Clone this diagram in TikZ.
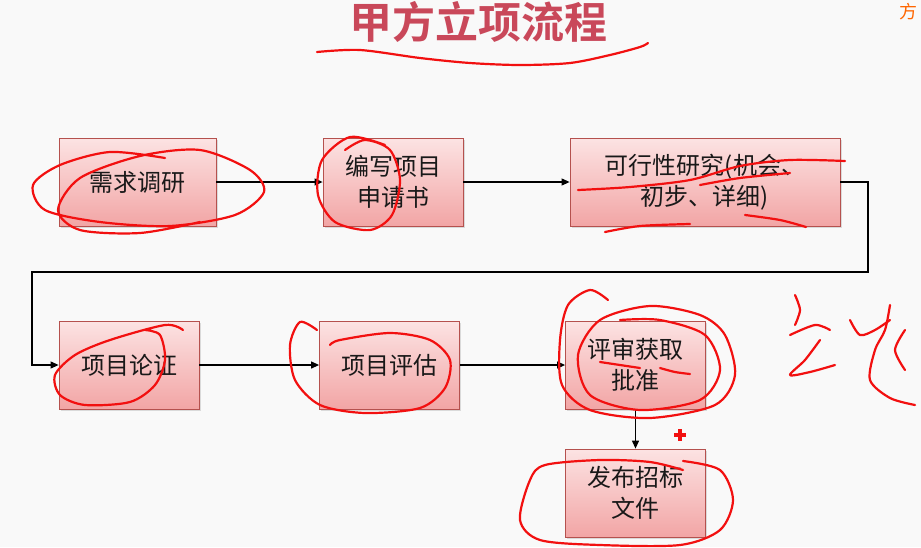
\documentclass[tikz,border=0pt]{standalone}
\usepackage{fontspec}
\setmainfont{Noto Sans CJK SC}
\newfontfamily\cjkbold{Noto Sans CJK SC Bold}
\usetikzlibrary{arrows.meta,shadows}
\definecolor{titlered}{HTML}{C9485A}
\definecolor{boxborder}{HTML}{B5514E}
\definecolor{boxtop}{HTML}{FCE3E3}
\definecolor{boxbot}{HTML}{F2A5A5}
\definecolor{bg}{HTML}{F9F9F9}
\definecolor{ink}{HTML}{F21010}
\tikzset{
  stepbox/.style={draw=boxborder, line width=0.8pt, top color=boxtop, bottom color=boxbot,
    minimum width=140pt, minimum height=88pt, inner sep=2pt, align=center,
    font=\fontsize{24}{31}\selectfont, text=black!90,
    drop shadow={shadow xshift=1.5pt, shadow yshift=-1.5pt, opacity=0.25}},
  flow/.style={draw=black, line width=1.1pt, -{Triangle[length=8pt,width=7pt]}},
  scrib/.style={draw=ink, line width=2.2pt, line cap=round, line join=round},
}
\begin{document}
\begin{tikzpicture}[x=1pt,y=-1pt]
\fill[bg] (0,0) rectangle (921,547);
\useasboundingbox (0,0) rectangle (921,547);

\node[font=\cjkbold\fontsize{43}{43}\selectfont, text=titlered] (title) at (478,22) {甲方立项流程};

\node[stepbox, minimum width=157pt] (a) at (137.5,182) {需求调研};
\node[stepbox] (b) at (393,182) {编写项目\\申请书};
\node[stepbox, minimum width=270pt] (c) at (705,182) {可行性研究(机会、\\初步、详细)};
\node[stepbox] (d) at (129,365) {项目论证};
\node[stepbox] (e) at (389.5,365) {项目评估};
\node[stepbox] (f) at (635.5,365) {评审获取\\批准};
\node[stepbox] (g) at (635.5,493) {发布招标\\文件};

\coordinate (r1) at (868,182);
\coordinate (r2) at (868,272);
\coordinate (l1) at (32,272);
\coordinate (l2) at (32,365);

\draw[flow] (a) -- (b);
\draw[flow] (b) -- (c);
\draw[flow] (c.east) -- (r1) -- (r2) -- (l1) -- (l2) -- (d.west);
\draw[flow] (d) -- (e);
\draw[flow] (e) -- (f);
\draw[flow] (f) -- (g);

% handwritten annotations
\draw[scrib] plot[smooth] coordinates {(317,52) (360,50) (420,58) (470,63) (520,65) (570,63) (610,55) (640,47) (648,43)};
\draw[scrib] plot[smooth] coordinates {(165,158) (110,152) (60,165) (33,185) (45,210) (100,222) (170,226) (235,215) (264,192) (250,170) (200,150) (140,156) (80,178) (58,210) (80,230) (140,233) (200,222)};
\draw[scrib] plot[smooth] coordinates {(385,145) (350,137) (322,160) (318,195) (335,222) (370,230) (392,215) (400,180) (390,150) (365,140) (345,150)};
\draw[scrib] plot[smooth] coordinates {(578,190) (630,187) (690,180) (740,166) (790,160) (845,161)};
\draw[scrib] plot[smooth] coordinates {(700,185) (740,178) (790,173)};
\draw[scrib] plot[smooth] coordinates {(605,232) (640,226) (690,224)};
\draw[scrib] plot[smooth] coordinates {(745,215) (780,220) (806,227)};
\draw[scrib] plot[smooth] coordinates {(183,330) (165,325) (110,340) (75,355) (55,375) (60,395) (85,405) (130,402) (155,385) (165,360) (160,335) (145,330)};
\draw[scrib] plot[smooth] coordinates {(317,330) (300,322) (290,345) (295,380) (320,405) (365,413) (420,408) (445,388) (450,360) (430,340) (390,333) (340,340) (330,345)};
\draw[scrib] plot[smooth] coordinates {(608,300) (590,290) (568,305) (560,340) (562,385) (590,410) (650,418) (715,405) (735,375) (725,335) (700,315) (650,306) (600,320) (578,355) (590,395) (640,410) (700,400) (720,370) (705,335) (660,320) (620,320)};
\draw[scrib] plot[smooth] coordinates {(600,362) (620,365) (640,368)};
\draw[scrib] plot[smooth] coordinates {(660,368) (675,372) (690,374)};
\draw[scrib] plot[smooth] coordinates {(683,461) (720,470) (733,500) (720,530) (680,545) (600,545) (540,540) (520,520) (530,480) (545,465) (600,460) (650,462) (683,470)};
\draw[ink, line width=4pt] (674,435) -- (686,435) (680,429) -- (680,441);
% right-side scribble
\draw[scrib] plot[smooth] coordinates {(795,295) (800,310) (795,325)};
\draw[scrib] plot[smooth] coordinates {(790,335) (815,325) (830,330)};
\draw[scrib] plot[smooth] coordinates {(820,340) (805,360) (790,375) (810,372) (835,365)};
\draw[scrib] plot[smooth] coordinates {(850,320) (860,335) (875,330) (890,320)};
\draw[scrib] plot[smooth] coordinates {(890,305) (885,330) (875,350) (870,380) (890,398) (915,405)};
\draw[scrib] plot[smooth] coordinates {(905,330) (895,350) (905,370)};
\node[text=orange!80!red, font=\fontsize{18}{18}\selectfont, anchor=north east] (corner) at (921,0) {方};
\end{tikzpicture}
\end{document}
